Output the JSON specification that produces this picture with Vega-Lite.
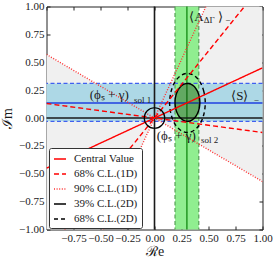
{
  "$schema": "https://vega.github.io/schema/vega-lite/v6.json",
  "width": 216,
  "height": 223,
  "autosize": "none",
  "padding": {"left": 46.5, "top": 6.5, "right": 13.5, "bottom": 27.5},
  "background": "white",
  "config": {
    "view": {"stroke": null},
    "font": "Liberation Serif",
    "axis": {"grid": false, "labelFont": "Liberation Serif", "titleFont": "Liberation Serif", "labelColor": "#1a1a1a", "titleColor": "#1a1a1a", "domainColor": "#222222", "tickColor": "#222222", "labelFontSize": 11, "titleFontWeight": "normal", "titleFontSize": 14}
  },
  "datasets": {
    "wedge": [
      {"side": "R", "x": 0, "hi": 0, "lo": 0},
      {"side": "R", "x": 0.476, "hi": 1, "lo": -0.271},
      {"side": "R", "x": 1, "hi": 1, "lo": -0.57},
      {"side": "L", "x": -1, "hi": 0.57, "lo": -1},
      {"side": "L", "x": -0.476, "hi": 0.271, "lo": -1},
      {"side": "L", "x": 0, "hi": 0, "lo": 0}
    ],
    "bandS": [{"x": -1, "x2": 1, "y": -0.03, "y2": 0.31}],
    "bandA": [{"x": 0.19, "x2": 0.41, "y": -1, "y2": 1}],
    "hedges": [{"y": 0.31}, {"y": -0.03}],
    "vedges": [{"x": 0.19}, {"x": 0.41}],
    "hcenter": [{"y": 0.135}],
    "vcenter": [{"x": 0.3}],
    "zero": [{"v": 0}],
    "inner": [
      {"x": 0.42, "hi": 0.14, "lo": 0.14},
      {"x": 0.418, "hi": 0.173, "lo": 0.107},
      {"x": 0.411, "hi": 0.205, "lo": 0.075},
      {"x": 0.386, "hi": 0.26, "lo": 0.02},
      {"x": 0.349, "hi": 0.297, "lo": -0.017},
      {"x": 0.305, "hi": 0.31, "lo": -0.03},
      {"x": 0.261, "hi": 0.297, "lo": -0.017},
      {"x": 0.224, "hi": 0.26, "lo": 0.02},
      {"x": 0.199, "hi": 0.205, "lo": 0.075},
      {"x": 0.192, "hi": 0.173, "lo": 0.107},
      {"x": 0.19, "hi": 0.14, "lo": 0.14}
    ],
    "lines": [
      {"id": "p1", "cl": "90% C.L.(1D)", "x": -1, "y": 0.57},
      {"id": "p1", "cl": "90% C.L.(1D)", "x": 1, "y": -0.57},
      {"id": "p2", "cl": "90% C.L.(1D)", "x": -0.476, "y": -1},
      {"id": "p2", "cl": "90% C.L.(1D)", "x": 0.476, "y": 1},
      {"id": "d1", "cl": "68% C.L.(1D)", "x": -1, "y": 0.13},
      {"id": "d1", "cl": "68% C.L.(1D)", "x": 1, "y": -0.13},
      {"id": "d2", "cl": "68% C.L.(1D)", "x": -0.833, "y": -1},
      {"id": "d2", "cl": "68% C.L.(1D)", "x": 0.833, "y": 1},
      {"id": "c", "cl": "Central Value", "x": -1, "y": -0.45},
      {"id": "c", "cl": "Central Value", "x": 1, "y": 0.45}
    ],
    "ell": [
      {"cl": "39% C.L.(2D)", "ord": 0, "x": 0.42, "y": 0.14},
      {"cl": "39% C.L.(2D)", "ord": 1, "x": 0.411, "y": 0.205},
      {"cl": "39% C.L.(2D)", "ord": 2, "x": 0.386, "y": 0.26},
      {"cl": "39% C.L.(2D)", "ord": 3, "x": 0.349, "y": 0.297},
      {"cl": "39% C.L.(2D)", "ord": 4, "x": 0.305, "y": 0.31},
      {"cl": "39% C.L.(2D)", "ord": 5, "x": 0.261, "y": 0.297},
      {"cl": "39% C.L.(2D)", "ord": 6, "x": 0.224, "y": 0.26},
      {"cl": "39% C.L.(2D)", "ord": 7, "x": 0.199, "y": 0.205},
      {"cl": "39% C.L.(2D)", "ord": 8, "x": 0.19, "y": 0.14},
      {"cl": "39% C.L.(2D)", "ord": 9, "x": 0.199, "y": 0.075},
      {"cl": "39% C.L.(2D)", "ord": 10, "x": 0.224, "y": 0.02},
      {"cl": "39% C.L.(2D)", "ord": 11, "x": 0.261, "y": -0.017},
      {"cl": "39% C.L.(2D)", "ord": 12, "x": 0.305, "y": -0.03},
      {"cl": "39% C.L.(2D)", "ord": 13, "x": 0.349, "y": -0.017},
      {"cl": "39% C.L.(2D)", "ord": 14, "x": 0.386, "y": 0.02},
      {"cl": "39% C.L.(2D)", "ord": 15, "x": 0.411, "y": 0.075},
      {"cl": "68% C.L.(2D)", "ord": 0, "x": 0.47, "y": 0.135},
      {"cl": "68% C.L.(2D)", "ord": 1, "x": 0.457, "y": 0.236},
      {"cl": "68% C.L.(2D)", "ord": 2, "x": 0.422, "y": 0.322},
      {"cl": "68% C.L.(2D)", "ord": 3, "x": 0.368, "y": 0.38},
      {"cl": "68% C.L.(2D)", "ord": 4, "x": 0.305, "y": 0.4},
      {"cl": "68% C.L.(2D)", "ord": 5, "x": 0.242, "y": 0.38},
      {"cl": "68% C.L.(2D)", "ord": 6, "x": 0.188, "y": 0.322},
      {"cl": "68% C.L.(2D)", "ord": 7, "x": 0.153, "y": 0.236},
      {"cl": "68% C.L.(2D)", "ord": 8, "x": 0.14, "y": 0.135},
      {"cl": "68% C.L.(2D)", "ord": 9, "x": 0.153, "y": 0.034},
      {"cl": "68% C.L.(2D)", "ord": 10, "x": 0.188, "y": -0.052},
      {"cl": "68% C.L.(2D)", "ord": 11, "x": 0.242, "y": -0.11},
      {"cl": "68% C.L.(2D)", "ord": 12, "x": 0.305, "y": -0.13},
      {"cl": "68% C.L.(2D)", "ord": 13, "x": 0.368, "y": -0.11},
      {"cl": "68% C.L.(2D)", "ord": 14, "x": 0.422, "y": -0.052},
      {"cl": "68% C.L.(2D)", "ord": 15, "x": 0.457, "y": 0.034}
    ],
    "origin": [{"x": 0, "y": 0}],
    "mainlab": [
      {"x": -0.6, "y": 0.205, "t": "(ϕₛ + γ)"},
      {"x": 0.02, "y": -0.16, "t": "(ϕₛ + γ)"},
      {"x": 0.322, "y": 0.91, "t": "⟨A"},
      {"x": 0.59, "y": 0.91, "t": "⟩"},
      {"x": 0.71, "y": 0.2, "t": "⟨S⟩"}
    ],
    "sublab": [
      {"x": -0.19, "y": 0.165, "t": "sol 1"},
      {"x": 0.43, "y": -0.195, "t": "sol 2"},
      {"x": 0.455, "y": 0.875, "t": "ΔΓ"},
      {"x": 0.655, "y": 0.875, "t": "−"},
      {"x": 0.92, "y": 0.165, "t": "−"}
    ]
  },
  "resolve": {"axis": {"x": "independent", "y": "independent"}},
  "layer": [
    {
      "data": {"name": "wedge"},
      "mark": {"type": "area", "color": "#f0f0f0", "clip": true},
      "encoding": {
        "x": {"field": "x", "type": "quantitative", "scale": {"domain": [-1, 1], "nice": false},
          "axis": {"orient": "bottom", "values": [-0.75, -0.5, -0.25, 0, 0.25, 0.5, 0.75, 1], "labelExpr": "replace(format(datum.value, '.2f'), '-', '−')", "tickSize": -3.5, "labelPadding": 6, "labelOverlap": false, "labelFlush": false, "title": "ℛe", "titlePadding": 1}},
        "y": {"field": "hi", "type": "quantitative", "scale": {"domain": [-1, 1], "nice": false},
          "axis": {"orient": "left", "values": [-1, -0.75, -0.5, -0.25, 0, 0.25, 0.5, 0.75, 1], "labelExpr": "replace(format(datum.value, '.2f'), '-', '−')", "tickSize": -3.5, "labelPadding": 6, "labelOverlap": false, "labelFlush": false, "title": "ℐm", "titlePadding": 4}},
        "y2": {"field": "lo"},
        "detail": {"field": "side"}
      }
    },
    {
      "data": {"name": "bandS"},
      "mark": {"type": "rect", "color": "#add8e6"},
      "encoding": {
        "x": {"field": "x", "type": "quantitative", "axis": null},
        "x2": {"field": "x2"},
        "y": {"field": "y", "type": "quantitative", "axis": null},
        "y2": {"field": "y2"}
      }
    },
    {
      "data": {"name": "bandA"},
      "mark": {"type": "rect", "color": "#90ee90"},
      "encoding": {
        "x": {"field": "x", "type": "quantitative", "axis": null},
        "x2": {"field": "x2"},
        "y": {"field": "y", "type": "quantitative", "axis": null},
        "y2": {"field": "y2"}
      }
    },
    {
      "data": {"name": "hedges"},
      "mark": {"type": "rule", "color": "#4060f0", "strokeWidth": 1.2, "strokeDash": [4, 2.5]},
      "encoding": {"y": {"field": "y", "type": "quantitative", "axis": null}}
    },
    {
      "data": {"name": "vedges"},
      "mark": {"type": "rule", "color": "#55a055", "strokeWidth": 1.2, "strokeDash": [4, 2.5]},
      "encoding": {"x": {"field": "x", "type": "quantitative", "axis": null}}
    },
    {
      "data": {"name": "hcenter"},
      "mark": {"type": "rule", "color": "#2040e0", "strokeWidth": 1.6},
      "encoding": {"y": {"field": "y", "type": "quantitative", "axis": null}}
    },
    {
      "data": {"name": "vcenter"},
      "mark": {"type": "rule", "color": "#128a12", "strokeWidth": 1.3},
      "encoding": {"x": {"field": "x", "type": "quantitative", "axis": null}}
    },
    {
      "data": {"name": "zero"},
      "mark": {"type": "rule", "color": "#1a1a1a", "strokeWidth": 1.6},
      "encoding": {"x": {"field": "v", "type": "quantitative", "axis": null}}
    },
    {
      "data": {"name": "zero"},
      "mark": {"type": "rule", "color": "#1a1a1a", "strokeWidth": 1.6},
      "encoding": {"y": {"field": "v", "type": "quantitative", "axis": null}}
    },
    {
      "data": {"name": "inner"},
      "mark": {"type": "area", "color": "#103010", "opacity": 0.36, "interpolate": "monotone"},
      "encoding": {
        "x": {"field": "x", "type": "quantitative", "axis": null},
        "y": {"field": "hi", "type": "quantitative", "axis": null},
        "y2": {"field": "lo"}
      }
    },
    {
      "data": {"name": "ell"},
      "mark": {"type": "line", "interpolate": "cardinal-closed", "strokeWidth": 1.4},
      "encoding": {
        "x": {"field": "x", "type": "quantitative", "axis": null},
        "y": {"field": "y", "type": "quantitative", "axis": null},
        "order": {"field": "ord", "type": "quantitative"},
        "color": {"field": "cl", "type": "nominal", "scale": {"domain": ["Central Value", "68% C.L.(1D)", "90% C.L.(1D)", "39% C.L.(2D)", "68% C.L.(2D)"], "range": ["#ff0000", "#ff0000", "#ff3030", "#000000", "#000000"]},
          "legend": {"orient": "none", "legendX": 2.5, "legendY": 141.5, "title": null, "symbolType": "stroke", "symbolSize": 144, "symbolStrokeWidth": 1.5, "labelFontSize": 11, "labelFont": "Liberation Serif", "labelColor": "#1a1a1a", "rowPadding": 3, "padding": 4, "fillColor": "white", "strokeColor": "#333333", "labelOffset": 7, "cornerRadius": 2}},
        "strokeDash": {"field": "cl", "type": "nominal", "scale": {"domain": ["Central Value", "68% C.L.(1D)", "90% C.L.(1D)", "39% C.L.(2D)", "68% C.L.(2D)"], "range": [[1, 0], [5, 3], [1, 1.6], [1, 0], [4, 3]]},
          "legend": {"orient": "none", "legendX": 2.5, "legendY": 141.5, "title": null, "symbolType": "stroke", "symbolSize": 144, "symbolStrokeWidth": 1.5, "labelFontSize": 11, "labelFont": "Liberation Serif", "labelColor": "#1a1a1a", "rowPadding": 3, "padding": 4, "fillColor": "white", "strokeColor": "#333333", "labelOffset": 7, "cornerRadius": 2}}
      }
    },
    {
      "data": {"name": "lines"},
      "mark": {"type": "line", "strokeWidth": 1.4, "clip": true},
      "encoding": {
        "x": {"field": "x", "type": "quantitative", "axis": {"orient": "top", "values": [-1, -0.75, -0.5, -0.25, 0, 0.25, 0.5, 0.75, 1], "labels": false, "tickSize": -3.5, "title": null}},
        "y": {"field": "y", "type": "quantitative", "axis": {"orient": "right", "values": [-1, -0.75, -0.5, -0.25, 0, 0.25, 0.5, 0.75, 1], "labels": false, "tickSize": -3.5, "title": null}},
        "detail": {"field": "id"},
        "color": {"field": "cl", "type": "nominal", "scale": {"domain": ["Central Value", "68% C.L.(1D)", "90% C.L.(1D)", "39% C.L.(2D)", "68% C.L.(2D)"], "range": ["#ff0000", "#ff0000", "#ff3030", "#000000", "#000000"]},
          "legend": {"orient": "none", "legendX": 2.5, "legendY": 141.5, "title": null, "symbolType": "stroke", "symbolSize": 144, "symbolStrokeWidth": 1.5, "labelFontSize": 11, "labelFont": "Liberation Serif", "labelColor": "#1a1a1a", "rowPadding": 3, "padding": 4, "fillColor": "white", "strokeColor": "#333333", "labelOffset": 7, "cornerRadius": 2}},
        "strokeDash": {"field": "cl", "type": "nominal", "scale": {"domain": ["Central Value", "68% C.L.(1D)", "90% C.L.(1D)", "39% C.L.(2D)", "68% C.L.(2D)"], "range": [[1, 0], [5, 3], [1, 1.6], [1, 0], [4, 3]]},
          "legend": {"orient": "none", "legendX": 2.5, "legendY": 141.5, "title": null, "symbolType": "stroke", "symbolSize": 144, "symbolStrokeWidth": 1.5, "labelFontSize": 11, "labelFont": "Liberation Serif", "labelColor": "#1a1a1a", "rowPadding": 3, "padding": 4, "fillColor": "white", "strokeColor": "#333333", "labelOffset": 7, "cornerRadius": 2}}
      }
    },
    {
      "data": {"name": "origin"},
      "mark": {"type": "point", "shape": "circle", "size": 420, "filled": false, "stroke": "#000000", "fill": null, "strokeWidth": 1.2, "opacity": 1, "strokeOpacity": 1},
      "encoding": {
        "x": {"field": "x", "type": "quantitative", "axis": null},
        "y": {"field": "y", "type": "quantitative", "axis": null}
      }
    },
    {
      "data": {"name": "mainlab"},
      "mark": {"type": "text", "align": "left", "baseline": "middle", "fontSize": 13, "font": "Liberation Serif", "color": "#1a1a1a"},
      "encoding": {
        "x": {"field": "x", "type": "quantitative", "axis": null},
        "y": {"field": "y", "type": "quantitative", "axis": null},
        "text": {"field": "t"}
      }
    },
    {
      "data": {"name": "sublab"},
      "mark": {"type": "text", "align": "left", "baseline": "middle", "fontSize": 9, "font": "Liberation Serif", "color": "#1a1a1a"},
      "encoding": {
        "x": {"field": "x", "type": "quantitative", "axis": null},
        "y": {"field": "y", "type": "quantitative", "axis": null},
        "text": {"field": "t"}
      }
    }
  ]
}
